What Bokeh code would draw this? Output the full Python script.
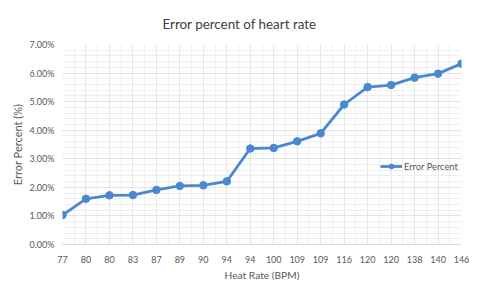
from bokeh.plotting import figure
from bokeh.models import (Range1d, FixedTicker, NumeralTickFormatter, Legend, LegendItem,
                          ColumnDataSource)
from bokeh.embed import file_html
from bokeh.resources import INLINE

heart_rate = ["77", "80", "80", "83", "87", "89", "90", "94", "94", "100",
              "109", "109", "116", "120", "120", "138", "140", "146"]
error_percent = [1.03, 1.60, 1.72, 1.73, 1.91, 2.05, 2.07, 2.21, 3.36, 3.38,
                 3.61, 3.89, 4.90, 5.51, 5.58, 5.84, 5.98, 6.33]
y_ticks = [0.00, 0.01, 0.02, 0.03, 0.04, 0.05, 0.06, 0.07]

idx = list(range(len(heart_rate)))
src = ColumnDataSource(dict(x=idx, y=[v / 100 for v in error_percent]))

FONT = "Lato"
TXT = "#595959"
BLUE = "#4a88cf"

p = figure(width=480, height=296, output_backend="svg", toolbar_location=None,
           x_range=Range1d(0, len(heart_rate) - 1), y_range=Range1d(0, 0.07),
           min_border_left=62, min_border_right=19, min_border_top=42, min_border_bottom=52)
p.outline_line_color = None
p.background_fill_color = "white"
p.border_fill_color = "white"

p.title.text = "Error percent of heart rate"
p.title.align = "left"
p.title.text_font = FONT
p.title.text_font_size = "13.4px"
p.title.text_font_style = "normal"
p.title.text_color = "#404040"
p.title.offset = 100
p.title.standoff = 26

# x axis
n = len(heart_rate)
p.xaxis.ticker = FixedTicker(ticks=idx, minor_ticks=[i + 0.5 for i in range(n - 1)])
p.xaxis.major_label_overrides = {i: lab for i, lab in enumerate(heart_rate)}
p.xaxis.axis_label = "Heat Rate (BPM)"
p.xaxis.axis_line_color = "#d9d9d9"
p.xaxis.major_label_standoff = 11
p.xaxis.axis_label_standoff = 3

# y axis
p.yaxis.ticker = FixedTicker(ticks=y_ticks,
                             minor_ticks=[round(i * 0.002, 4) for i in range(36)])
p.yaxis.formatter = NumeralTickFormatter(format="0.00%")
p.yaxis.axis_label = "Error Percent (%)"
p.yaxis.axis_line_color = None
p.yaxis.major_label_standoff = 8
p.yaxis.axis_label_standoff = 3

for ax in (p.xaxis, p.yaxis):
    ax.major_tick_line_color = None
    ax.minor_tick_line_color = None
    ax.major_tick_out = 0
    ax.major_tick_in = 0
    ax.minor_tick_out = 0
    ax.minor_tick_in = 0
    ax.major_label_text_font = FONT
    ax.major_label_text_font_size = "9px"
    ax.major_label_text_color = TXT
    ax.axis_label_text_font = FONT
    ax.axis_label_text_font_style = "normal"
    ax.axis_label_text_color = TXT
p.xaxis.axis_label_text_font_size = "10.2px"
p.yaxis.axis_label_text_font_size = "11px"

for g in (p.xgrid, p.ygrid):
    g.grid_line_color = "#e4e4e4"
    g.minor_grid_line_color = "#efefef"
    g.grid_line_width = 1

r_line = p.line("x", "y", source=src, line_color=BLUE, line_width=2.8)
r_pts = p.scatter("x", "y", source=src, size=7.5, fill_color=BLUE, line_color=BLUE)

legend = Legend(items=[LegendItem(label="Error Percent", renderers=[r_line, r_pts])],
                location=(318, 72), padding=0, margin=0, spacing=0,
                glyph_width=22, glyph_height=12, label_standoff=2,
                label_text_font=FONT, label_text_font_size="9.3px",
                label_text_color=TXT, border_line_color=None,
                background_fill_alpha=0)
p.add_layout(legend)

open("out.html", "w").write(file_html(p, INLINE))
